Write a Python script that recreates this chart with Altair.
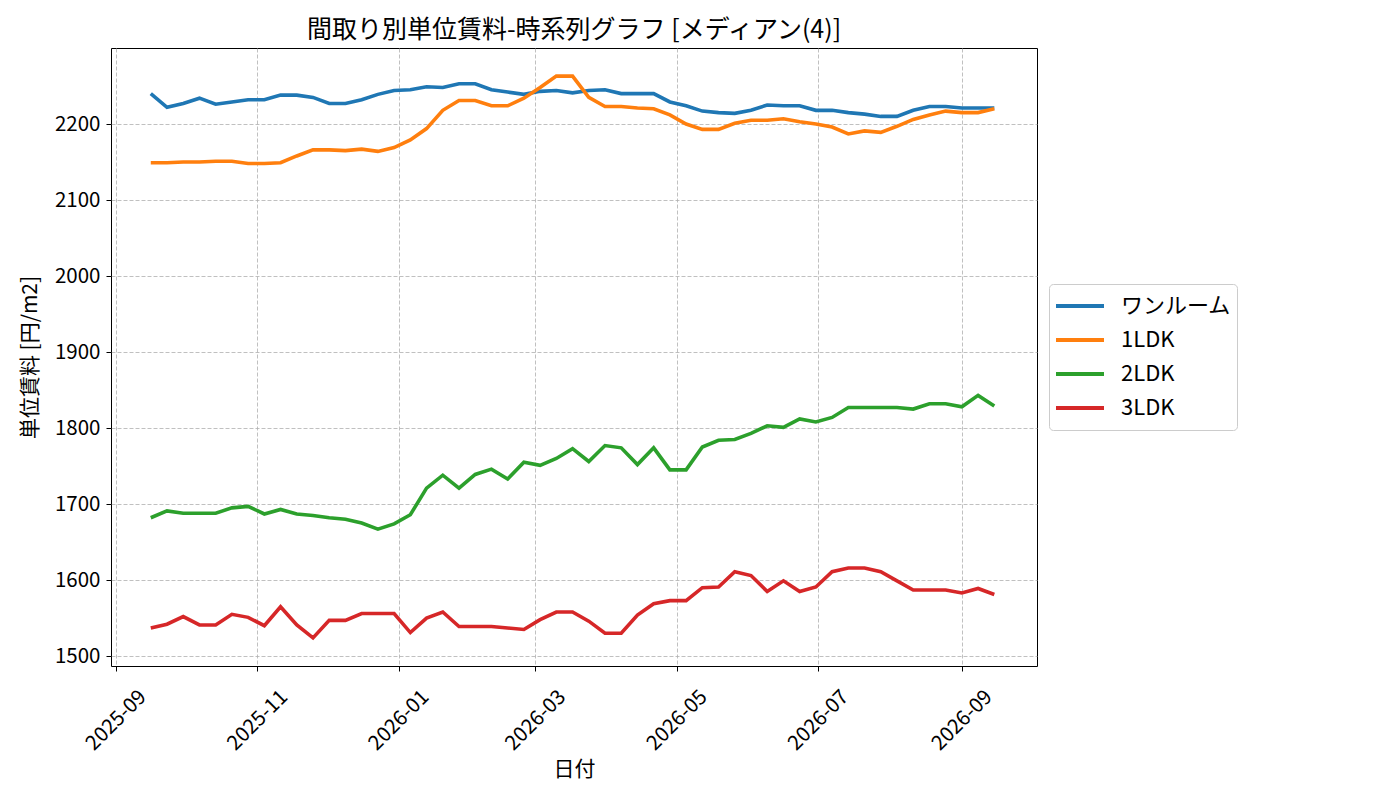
import altair as alt
import pandas as pd

# weekly medians
start_date = "2025-09-16"
n_weeks = 53

one_room = [2240, 2222, 2227, 2234, 2226, 2229, 2232, 2232, 2238, 2238,
            2235, 2227, 2227, 2232, 2239, 2244, 2245, 2249, 2248, 2253,
            2253, 2245, 2242, 2239, 2243, 2244, 2241, 2244, 2245, 2240,
            2240, 2240, 2229, 2224, 2217, 2215, 2214, 2218, 2225, 2224,
            2224, 2218, 2218, 2215, 2213, 2210, 2210, 2218, 2223, 2223,
            2221, 2221, 2221]
ldk1 = [2149, 2149, 2150, 2150, 2151, 2151, 2148, 2148, 2149, 2158,
        2166, 2166, 2165, 2167, 2164, 2169, 2179, 2194, 2218, 2231,
        2231, 2224, 2224, 2234, 2248, 2263, 2263, 2235, 2223, 2223,
        2221, 2220, 2212, 2200, 2193, 2193, 2201, 2205, 2205, 2207,
        2203, 2200, 2196, 2187, 2191, 2189, 2197, 2206, 2212, 2217,
        2215, 2215, 2220]
ldk2 = [1682, 1691, 1688, 1688, 1688, 1695, 1697, 1687, 1693, 1687,
        1685, 1682, 1680, 1675, 1667, 1674, 1686, 1721, 1738, 1721,
        1739, 1746, 1733, 1755, 1751, 1760, 1773, 1756, 1777, 1774,
        1752, 1774, 1745, 1745, 1775, 1784, 1785, 1793, 1803, 1801,
        1812, 1808, 1814, 1827, 1827, 1827, 1827, 1825, 1832, 1832,
        1828, 1843, 1829]
ldk3 = [1537, 1542, 1552, 1541, 1541, 1555, 1551, 1540, 1565, 1541,
        1524, 1547, 1547, 1556, 1556, 1556, 1531, 1550, 1558, 1539,
        1539, 1539, 1537, 1535, 1548, 1558, 1558, 1546, 1530, 1530,
        1554, 1569, 1573, 1573, 1590, 1591, 1611, 1606, 1585, 1599,
        1585, 1591, 1611, 1616, 1616, 1611, 1599, 1587, 1587, 1587,
        1583, 1589, 1581]

series_names = ["ワンルーム", "1LDK", "2LDK", "3LDK"]
series_colors = ["#1f77b4", "#ff7f0e", "#2ca02c", "#d62728"]
y_ticks = [1500, 1600, 1700, 1800, 1900, 2000, 2100, 2200]
x_tick_months = [(2025, 9), (2025, 11), (2026, 1), (2026, 3),
                 (2026, 5), (2026, 7), (2026, 9)]

dates = pd.date_range(start_date, periods=n_weeks, freq="7D")
frames = []
for name, vals in zip(series_names, [one_room, ldk1, ldk2, ldk3]):
    frames.append(pd.DataFrame({"date": dates, "value": vals, "type": name}))
df = pd.concat(frames, ignore_index=True)

FONT = "Noto Sans CJK JP"

chart = alt.Chart(df).mark_line(strokeWidth=3.6).encode(
    x=alt.X(
        "date:T",
        title="日付",
        scale=alt.Scale(domain=[
            alt.DateTime(year=2025, month=8, date=29, hours=20),
            alt.DateTime(year=2026, month=10, date=3, hours=10),
        ]),
        axis=alt.Axis(
            values=[alt.DateTime(year=y, month=m, date=1) for y, m in x_tick_months],
            format="%Y-%m",
            labelAngle=-45,
            labelAlign="center",
            labelBaseline="middle",
            labelPadding=49,
            titlePadding=4,
        ),
    ),
    y=alt.Y(
        "value:Q",
        title="単位賃料 [円/m2]",
        scale=alt.Scale(domain=[1487, 2300], nice=False, zero=False),
        axis=alt.Axis(values=y_ticks, format="d", labelPadding=6, titlePadding=14),
    ),
    color=alt.Color(
        "type:N",
        scale=alt.Scale(domain=series_names, range=series_colors),
        legend=alt.Legend(
            title=None,
            orient="none",
            legendX=938,
            legendY=236,
            symbolType="stroke",
            symbolSize=2304,
            symbolStrokeWidth=4,
            clipHeight=34,
            labelFontSize=22,
            labelFont=FONT,
            labelOffset=15,
            padding=5,
            rowPadding=0,
            strokeColor="#cccccc",
            fillColor="white",
            cornerRadius=4,
        ),
    ),
).properties(
    width=926,
    height=618,
    title=alt.TitleParams(
        "間取り別単位賃料-時系列グラフ [メディアン(4)]",
        fontSize=25,
        font=FONT,
        fontWeight="normal",
        anchor="middle",
        offset=5,
    ),
    autosize=alt.AutoSizeParams(type="none"),
    padding={"left": 103, "top": 40, "right": 355, "bottom": 120},
).configure_view(
    stroke="black", strokeWidth=1
).configure_axis(
    labelFont=FONT,
    labelFontSize=20.5,
    labelColor="black",
    titleFont=FONT,
    titleFontSize=21,
    titleFontWeight="normal",
    titleColor="black",
    domain=False,
    tickColor="black",
    tickSize=5,
    grid=True,
    gridColor="#b0b0b0",
    gridDash=[4, 2],
    gridWidth=0.8,
)

chart.save("out.html", embed_options={"renderer": "svg", "actions": False})
